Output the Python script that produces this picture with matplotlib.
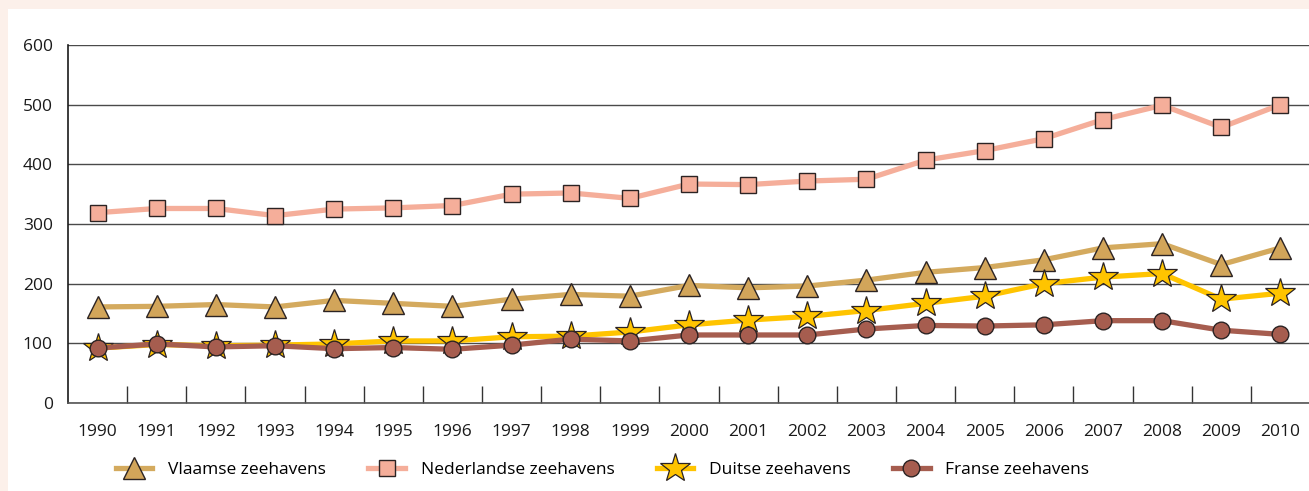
import numpy as np
import matplotlib.pyplot as plt
from matplotlib.patches import Rectangle

plt.rcParams['font.family'] = ['Open Sans', 'DejaVu Sans']

years = [str(y) for y in range(1990, 2011)]

vlaamse = [161, 162, 165, 161, 172, 167, 162, 174, 182, 179, 197, 193, 196, 206,
           219, 227, 240, 260, 267, 232, 260]
nederlandse = [319, 326, 326, 314, 325, 327, 331, 350, 352, 343, 367, 366, 372, 375,
               407, 423, 443, 475, 499, 462, 500]
duitse = [92, 98, 96, 97, 99, 104, 104, 111, 112, 119, 131, 139, 145, 155,
          167, 179, 200, 211, 217, 174, 184]
franse = [92, 99, 94, 96, 91, 93, 90, 97, 107, 104, 114, 114, 114, 124,
          130, 129, 131, 138, 138, 122, 115]

labels = ["Vlaamse zeehavens", "Nederlandse zeehavens", "Duitse zeehavens", "Franse zeehavens"]

fig = plt.figure(figsize=(13.09, 4.91), dpi=100)
fig.patch.set_facecolor("#FCF0EA")
fig.patches.append(Rectangle((8/1309, 0), 1.0, (491-9)/491, transform=fig.transFigure,
                             facecolor="white", edgecolor="none", zorder=-10))

ax = fig.add_axes([68/1309, 88/491, 1242/1309, 358/491])
ax.set_facecolor("none")

x = np.arange(len(years))
ek = "#2b2323"
ax.plot(x, vlaamse, color="#D4AA5E", lw=3.8, marker="^", ms=16, mfc="#D2A55A",
        mec=ek, mew=1.0, label=labels[0], zorder=3)
ax.plot(x, nederlandse, color="#F5AE9A", lw=3.8, marker="s", ms=11.5, mfc="#F5AE9A",
        mec=ek, mew=1.0, label=labels[1], zorder=3)
ax.plot(x, duitse, color="#FFC400", lw=3.8, marker="*", ms=22, mfc="#FFC400",
        mec=ek, mew=0.9, label=labels[2], zorder=4)
ax.plot(x, franse, color="#A65D4F", lw=3.8, marker="o", ms=12, mfc="#A65D4F",
        mec=ek, mew=1.0, label=labels[3], zorder=5)

ax.set_xlim(-0.5, 20.5)
ax.set_ylim(0, 600)
ax.set_yticks(range(0, 601, 100))
ax.grid(axis="y", color="#4a4a4a", lw=1.0, zorder=1)
ax.set_axisbelow(True)

ax.set_xticks(x)
ax.set_xticklabels(years)
ax.set_xticks(np.arange(0.5, 20.6, 1), minor=True)
ax.tick_params(axis="x", which="major", length=0, pad=15, labelsize=12.5, colors="#1a1a1a")
ax.tick_params(axis="x", which="minor", direction="in", length=12, width=1.0, color="#333333")
ax.tick_params(axis="y", length=0, pad=11, labelsize=12.5, colors="#1a1a1a")

for s in ["top", "right"]:
    ax.spines[s].set_visible(False)
ax.spines["left"].set_color("#1a1a1a")
ax.spines["bottom"].set_color("#555555")
ax.spines["left"].set_linewidth(1.2)
ax.spines["bottom"].set_linewidth(1.2)

fig.legend(loc="center left", bbox_to_anchor=(116/1309, 21/491), ncol=4, frameon=False,
           fontsize=12.5, handlelength=2.1, handletextpad=0.9, columnspacing=2.45,
           borderaxespad=0, borderpad=0)

fig.savefig("out.png", dpi=100, facecolor=fig.get_facecolor())
